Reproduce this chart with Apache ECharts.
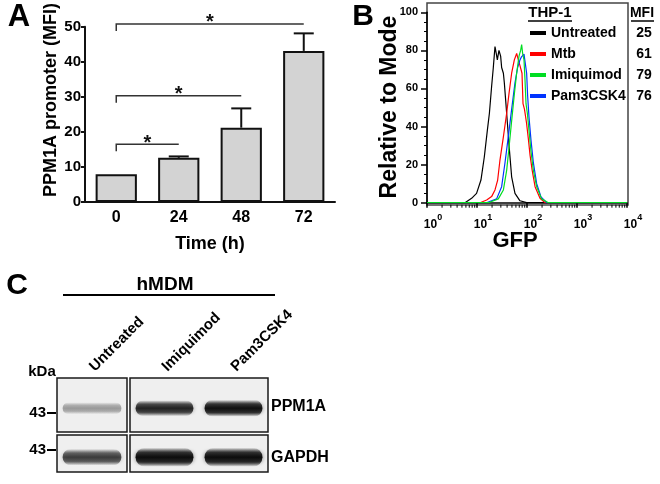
<!DOCTYPE html>
<html><head><meta charset="utf-8">
<script src="https://cdn.jsdelivr.net/npm/echarts@6/dist/echarts.min.js"></script>
<style>html,body{margin:0;padding:0;background:#fff}#c{width:660px;height:484px}</style>
</head><body><div id="c"></div>
<script>
// ---------- Panel A data ----------
const timeCategories = ['0', '24', '48', '72'];
const promoterMFI = [7.9, 12.6, 21.2, 43.1];
const promoterErr = [0, 0.4, 5.5, 5.0];
const sigFrom = [0, 0, 0];
const sigTo = [1, 2, 3];
const sigHeight = [16.5, 30.3, 50.8];
const sigLabel = ['*', '*', '*'];

// ---------- Panel B data (GFP, % of mode) ----------
const gfpDecades = [1, 10, 100, 1000, 10000];
const groupNames = ['Untreated', 'Mtb', 'Imiquimod', 'Pam3CSK4'];
const groupMFI = [25, 61, 79, 76];
const untreatedCurve = [[1,0],[5.75,0],[7.8,2.3],[9.8,4.9],[12.0,11.9],[14.0,24],[16.1,38],[17.7,47],[19.6,61],[21.2,71],[22.9,82],[24.4,78],[25.5,75],[27.5,80],[29.7,77],[31.1,71],[33.7,68],[35.2,63],[37.4,54],[40.5,42],[44.4,28],[49.3,13.6],[57.5,4.9],[72.4,1],[98.4,0],[10000,0]];
const mtbCurve = [[1,0],[11.5,0],[15.6,1.4],[19.6,3.2],[22.9,6.7],[25.9,11.9],[28.8,22.4],[33.7,34.6],[39.2,47],[43.7,57.4],[49.3,68],[55.8,75],[62.1,78.4],[67.1,75],[72.4,72],[79.4,68],[83.2,52],[89.1,49],[97.7,42],[107,33],[115,25],[127,17],[145,8.4],[182,2.3],[230,0],[10000,0]];
const imiquimodCurve = [[1,0],[16.9,0],[26.7,2],[33.7,6.7],[39.2,17],[43.7,29],[49.3,43],[55.8,57],[62.1,68],[69.2,77],[74.6,80],[78.2,83],[81.8,78.4],[87.1,75],[91.2,64.6],[95.5,52],[101.6,47],[109.6,38],[120,27],[134,17],[156,8.4],[196,2],[267,0],[10000,0]];
const pamCurve = [[1,0],[15.5,0],[24.7,2],[31.1,8.4],[36.3,21],[42.4,35],[49.3,49],[57.5,63],[65,71],[72.4,75],[77.6,76.6],[87.1,78],[94,77],[98.4,68],[103,56],[109.6,45],[120,33],[134,21],[156,10],[190.5,3],[247,0],[10000,0]];
const gfpMinorTicks = [];
gfpDecades.slice(0, 4).forEach(d => { for (let k = 2; k <= 9; k++) gfpMinorTicks.push(d * k); });

// ---------- Panel C data (relative band intensity) ----------
const leftLanes = ['Untreated'];
const rightLanes = ['Imiquimod', 'Pam3CSK4'];
const ppm1aBand = [0.34, 0.85, 0.97];
const gapdhBand = [0.72, 1.0, 1.0];

const FONT = 'Liberation Sans, Arial, sans-serif';
const colors = ['#000000', '#ff0000', '#00dd22', '#0033ff'];

function bandRender(centerFrac, baseH) {
  return function (params, api) {
    const lane = api.value(0), inten = api.value(1);
    const c = api.coord([lane, centerFrac]);
    const w = api.size([1, 0])[0] * 0.84;
    const h = baseH * (0.55 + 0.45 * inten);
    const col = a => 'rgba(12,12,12,' + a + ')';
    return {
      type: 'rect',
      shape: { x: c[0] - w / 2, y: c[1] - h / 2, width: w, height: h, r: h / 2 },
      style: {
        fill: new echarts.graphic.LinearGradient(0, 0, 0, 1, [
          { offset: 0, color: col(0) },
          { offset: 0.25, color: col(inten * 0.75) },
          { offset: 0.5, color: col(inten) },
          { offset: 0.75, color: col(inten * 0.8) },
          { offset: 1, color: col(0) }
        ]),
        shadowBlur: 4, shadowColor: col(inten * 0.5)
      }
    };
  };
}

const blotGrid = (left, top, width, height) => ({ left, top, width, height, show: true, backgroundColor: '#efefef', borderColor: '#1a1a1a', borderWidth: 1.5 });

const option = {
  animation: false,
  textStyle: { fontFamily: FONT },
  grid: [
    { left: 85, top: 26.7, width: 250, height: 175.3 },           // 0 A
    { left: 427, top: 3, width: 201, height: 202, show: true, borderColor: '#444', borderWidth: 1.5 }, // 1 B box
    { left: 427, top: 12.3, width: 200, height: 190.4 },          // 2 B plot
    blotGrid(57, 378, 70, 54),                                    // 3
    blotGrid(57, 435, 70, 37),                                    // 4
    blotGrid(130, 378, 138, 54),                                  // 5
    blotGrid(130, 435, 138, 37)                                   // 6
  ],
  xAxis: [
    { gridIndex: 0, type: 'category', data: timeCategories,
      axisLine: { lineStyle: { color: '#111', width: 2 } },
      axisTick: { alignWithLabel: true, length: 5, lineStyle: { width: 2, color: '#111' } },
      axisLabel: { color: '#000', fontWeight: 'bold', fontSize: 16, margin: 8, fontFamily: FONT } },
    { gridIndex: 1, type: 'value', show: false, min: 0, max: 1 },
    { gridIndex: 2, type: 'log', logBase: 10, min: 1, max: 10000, offset: 2,
      axisLine: { lineStyle: { color: '#000', width: 1.5 } },
      axisTick: { length: 5, lineStyle: { color: '#000', width: 1.5 } },
      splitLine: { show: false },
      axisLabel: { margin: 8, color: '#000', fontFamily: FONT, padding: [0, 0, 0, 12],
        formatter: v => '{b|10}{s|' + Math.round(Math.log10(v)) + '}',
        rich: { b: { fontSize: 12, fontWeight: 'bold', fontFamily: FONT, color: '#000', verticalAlign: 'bottom', lineHeight: 18 },
                s: { fontSize: 9, fontWeight: 'bold', fontFamily: FONT, color: '#000', verticalAlign: 'top', lineHeight: 10 } } } },
    { gridIndex: 3, type: 'category', data: leftLanes, position: 'top',
      axisLine: { show: false }, axisTick: { show: false },
      axisLabel: { interval: 0, rotate: 45, margin: 9, color: '#000', fontWeight: 'bold', fontSize: 15, fontFamily: FONT } },
    { gridIndex: 4, type: 'category', data: leftLanes, show: false },
    { gridIndex: 5, type: 'category', data: rightLanes, position: 'top',
      axisLine: { show: false }, axisTick: { show: false },
      axisLabel: { interval: 0, rotate: 45, margin: 9, color: '#000', fontWeight: 'bold', fontSize: 15, fontFamily: FONT } },
    { gridIndex: 6, type: 'category', data: rightLanes, show: false }
  ],
  yAxis: [
    { gridIndex: 0, type: 'value', min: 0, max: 50, interval: 10,
      axisLine: { show: true, lineStyle: { color: '#111', width: 2 } },
      axisTick: { show: true, length: 4, lineStyle: { width: 2, color: '#111' } },
      splitLine: { show: false },
      axisLabel: { color: '#000', fontWeight: 'bold', fontSize: 15, margin: 4, fontFamily: FONT } },
    { gridIndex: 1, type: 'value', show: false, min: 0, max: 1 },
    { gridIndex: 2, type: 'value', min: 0, max: 100, interval: 20,
      axisLine: { show: true, lineStyle: { color: '#000', width: 1.5 } },
      axisTick: { show: true, length: 6, lineStyle: { color: '#000', width: 1.5 } },
      minorTick: { show: true, splitNumber: 4, length: 3, lineStyle: { color: '#000', width: 1 } },
      splitLine: { show: false },
      axisLabel: { color: '#000', fontWeight: 'bold', fontSize: 11, margin: 9, fontFamily: FONT } },
    { gridIndex: 3, type: 'value', show: false, min: 0, max: 1 },
    { gridIndex: 4, type: 'value', show: false, min: 0, max: 1 },
    { gridIndex: 5, type: 'value', show: false, min: 0, max: 1 },
    { gridIndex: 6, type: 'value', show: false, min: 0, max: 1 }
  ],
  legend: {
    left: 530, top: 25, orient: 'vertical', selectedMode: false, padding: 0,
    data: groupNames, icon: 'rect', itemWidth: 16, itemHeight: 4, itemGap: 5,
    formatter: name => '{n|' + name + '}{v|' + groupMFI[groupNames.indexOf(name)] + '}',
    textStyle: { color: '#000', fontFamily: FONT, lineHeight: 16,
      rich: { n: { width: 84, fontSize: 14, fontWeight: 'bold', color: '#000', fontFamily: FONT },
              v: { width: 18, align: 'center', fontSize: 14, fontWeight: 'bold', color: '#000', fontFamily: FONT } } }
  },
  series: [
    { type: 'bar', xAxisIndex: 0, yAxisIndex: 0, data: promoterMFI, barWidth: '66%',
      itemStyle: { color: '#d3d3d3', borderColor: '#111', borderWidth: 2 }, z: 2 },
    { type: 'custom', xAxisIndex: 0, yAxisIndex: 0, z: 3,
      data: promoterMFI.map((m, i) => [i, m, promoterErr[i]]),
      renderItem(params, api) {
        const i = api.value(0), m = api.value(1), e = api.value(2);
        if (!e) return null;
        const b = api.coord([i, m]), t = api.coord([i, m + e]);
        return { type: 'group', children: [
          { type: 'line', shape: { x1: b[0], y1: b[1], x2: t[0], y2: t[1] }, style: { stroke: '#111', lineWidth: 2 } },
          { type: 'line', shape: { x1: t[0] - 10, y1: t[1], x2: t[0] + 10, y2: t[1] }, style: { stroke: '#111', lineWidth: 2 } }
        ] };
      } },
    { type: 'custom', xAxisIndex: 0, yAxisIndex: 0, z: 3, clip: false,
      data: sigFrom.map((f, i) => [f, sigTo[i], sigHeight[i]]),
      renderItem(params, api) {
        const a = api.coord([api.value(0), api.value(2)]), b = api.coord([api.value(1), api.value(2)]);
        return { type: 'group', children: [
          { type: 'polyline', shape: { points: [[a[0], a[1] + 7], [a[0], a[1]], [b[0], b[1]]] }, style: { stroke: '#333', lineWidth: 1.5, fill: null } },
          { type: 'text', x: (a[0] + b[0]) / 2, y: a[1] - 1, style: { text: sigLabel[params.dataIndex], font: 'bold 20px ' + FONT, fill: '#111', align: 'center', verticalAlign: 'middle' } }
        ] };
      } },
    { name: 'Untreated', type: 'line', xAxisIndex: 2, yAxisIndex: 2, data: untreatedCurve, showSymbol: false, color: colors[0], lineStyle: { width: 1.2 } },
    { name: 'Mtb', type: 'line', xAxisIndex: 2, yAxisIndex: 2, data: mtbCurve, showSymbol: false, color: colors[1], lineStyle: { width: 1.2 } },
    { name: 'Pam3CSK4', type: 'line', xAxisIndex: 2, yAxisIndex: 2, data: pamCurve, showSymbol: false, color: colors[3], lineStyle: { width: 1.2 } },
    { name: 'Imiquimod', type: 'line', xAxisIndex: 2, yAxisIndex: 2, data: imiquimodCurve, showSymbol: false, color: colors[2], lineStyle: { width: 1.2 } },
    { type: 'custom', xAxisIndex: 2, yAxisIndex: 2, clip: false, silent: true,
      data: gfpMinorTicks.map(v => [v]),
      renderItem(params, api) {
        const p = api.coord([api.value(0), 0]);
        return { type: 'line', shape: { x1: p[0], y1: p[1] + 2, x2: p[0], y2: p[1] + 5 }, style: { stroke: '#000', lineWidth: 1 } };
      } },
    { type: 'custom', xAxisIndex: 3, yAxisIndex: 3, data: [[0, ppm1aBand[0]]], renderItem: bandRender(0.44, 17) },
    { type: 'custom', xAxisIndex: 5, yAxisIndex: 5, data: [[0, ppm1aBand[1]], [1, ppm1aBand[2]]], renderItem: bandRender(0.44, 17) },
    { type: 'custom', xAxisIndex: 4, yAxisIndex: 4, data: [[0, gapdhBand[0]]], renderItem: bandRender(0.4, 19) },
    { type: 'custom', xAxisIndex: 6, yAxisIndex: 6, data: [[0, gapdhBand[1]], [1, gapdhBand[2]]], renderItem: bandRender(0.4, 19) }
  ],
  graphic: [
    { type: 'text', x: 19, y: 17, style: { text: 'A', font: 'bold 31px ' + FONT, fill: '#000', align: 'center', verticalAlign: 'middle' } },
    { type: 'text', x: 363, y: 17, style: { text: 'B', font: 'bold 30px ' + FONT, fill: '#000', align: 'center', verticalAlign: 'middle' } },
    { type: 'text', x: 17, y: 286, style: { text: 'C', font: 'bold 30px ' + FONT, fill: '#000', align: 'center', verticalAlign: 'middle' } },
    { type: 'text', x: 51, y: 100, rotation: Math.PI / 2, style: { text: 'PPM1A promoter (MFI)', font: 'bold 18px ' + FONT, fill: '#000', align: 'center', verticalAlign: 'middle' } },
    { type: 'text', x: 210, y: 244, style: { text: 'Time (h)', font: 'bold 18px ' + FONT, fill: '#000', align: 'center', verticalAlign: 'middle' } },
    { type: 'text', x: 390, y: 107, rotation: Math.PI / 2, style: { text: 'Relative to Mode', font: 'bold 23px ' + FONT, fill: '#000', align: 'center', verticalAlign: 'middle' } },
    { type: 'text', x: 515, y: 241, style: { text: 'GFP', font: 'bold 22px ' + FONT, fill: '#000', align: 'center', verticalAlign: 'middle' } },
    { type: 'text', x: 550, y: 13, style: { text: 'THP-1', font: 'bold 15px ' + FONT, fill: '#000', align: 'center', verticalAlign: 'middle' } },
    { type: 'line', shape: { x1: 528, y1: 21, x2: 572, y2: 21 }, style: { stroke: '#000', lineWidth: 1.5 } },
    { type: 'text', x: 642, y: 13, style: { text: 'MFI', font: 'bold 14px ' + FONT, fill: '#000', align: 'center', verticalAlign: 'middle' } },
    { type: 'line', shape: { x1: 631, y1: 21, x2: 654, y2: 21 }, style: { stroke: '#000', lineWidth: 1.5 } },
    { type: 'text', x: 165, y: 285, style: { text: 'hMDM', font: 'bold 19px ' + FONT, fill: '#000', align: 'center', verticalAlign: 'middle' } },
    { type: 'line', shape: { x1: 63, y1: 295, x2: 275, y2: 295 }, style: { stroke: '#000', lineWidth: 2 } },
    { type: 'text', x: 42, y: 372, style: { text: 'kDa', font: 'bold 15px ' + FONT, fill: '#000', align: 'center', verticalAlign: 'middle' } },
    { type: 'text', x: 46, y: 413, style: { text: '43', font: 'bold 15px ' + FONT, fill: '#000', align: 'right', verticalAlign: 'middle' } },
    { type: 'line', shape: { x1: 47, y1: 413, x2: 56, y2: 413 }, style: { stroke: '#000', lineWidth: 2 } },
    { type: 'text', x: 46, y: 450, style: { text: '43', font: 'bold 15px ' + FONT, fill: '#000', align: 'right', verticalAlign: 'middle' } },
    { type: 'line', shape: { x1: 47, y1: 450, x2: 56, y2: 450 }, style: { stroke: '#000', lineWidth: 2 } },
    { type: 'text', x: 271, y: 407, style: { text: 'PPM1A', font: 'bold 16px ' + FONT, fill: '#000', align: 'left', verticalAlign: 'middle' } },
    { type: 'text', x: 271, y: 458, style: { text: 'GAPDH', font: 'bold 16px ' + FONT, fill: '#000', align: 'left', verticalAlign: 'middle' } }
  ]
};

const chart = echarts.init(document.getElementById('c'), null, { renderer: 'canvas' });
chart.setOption(option);
</script>
</body></html>
